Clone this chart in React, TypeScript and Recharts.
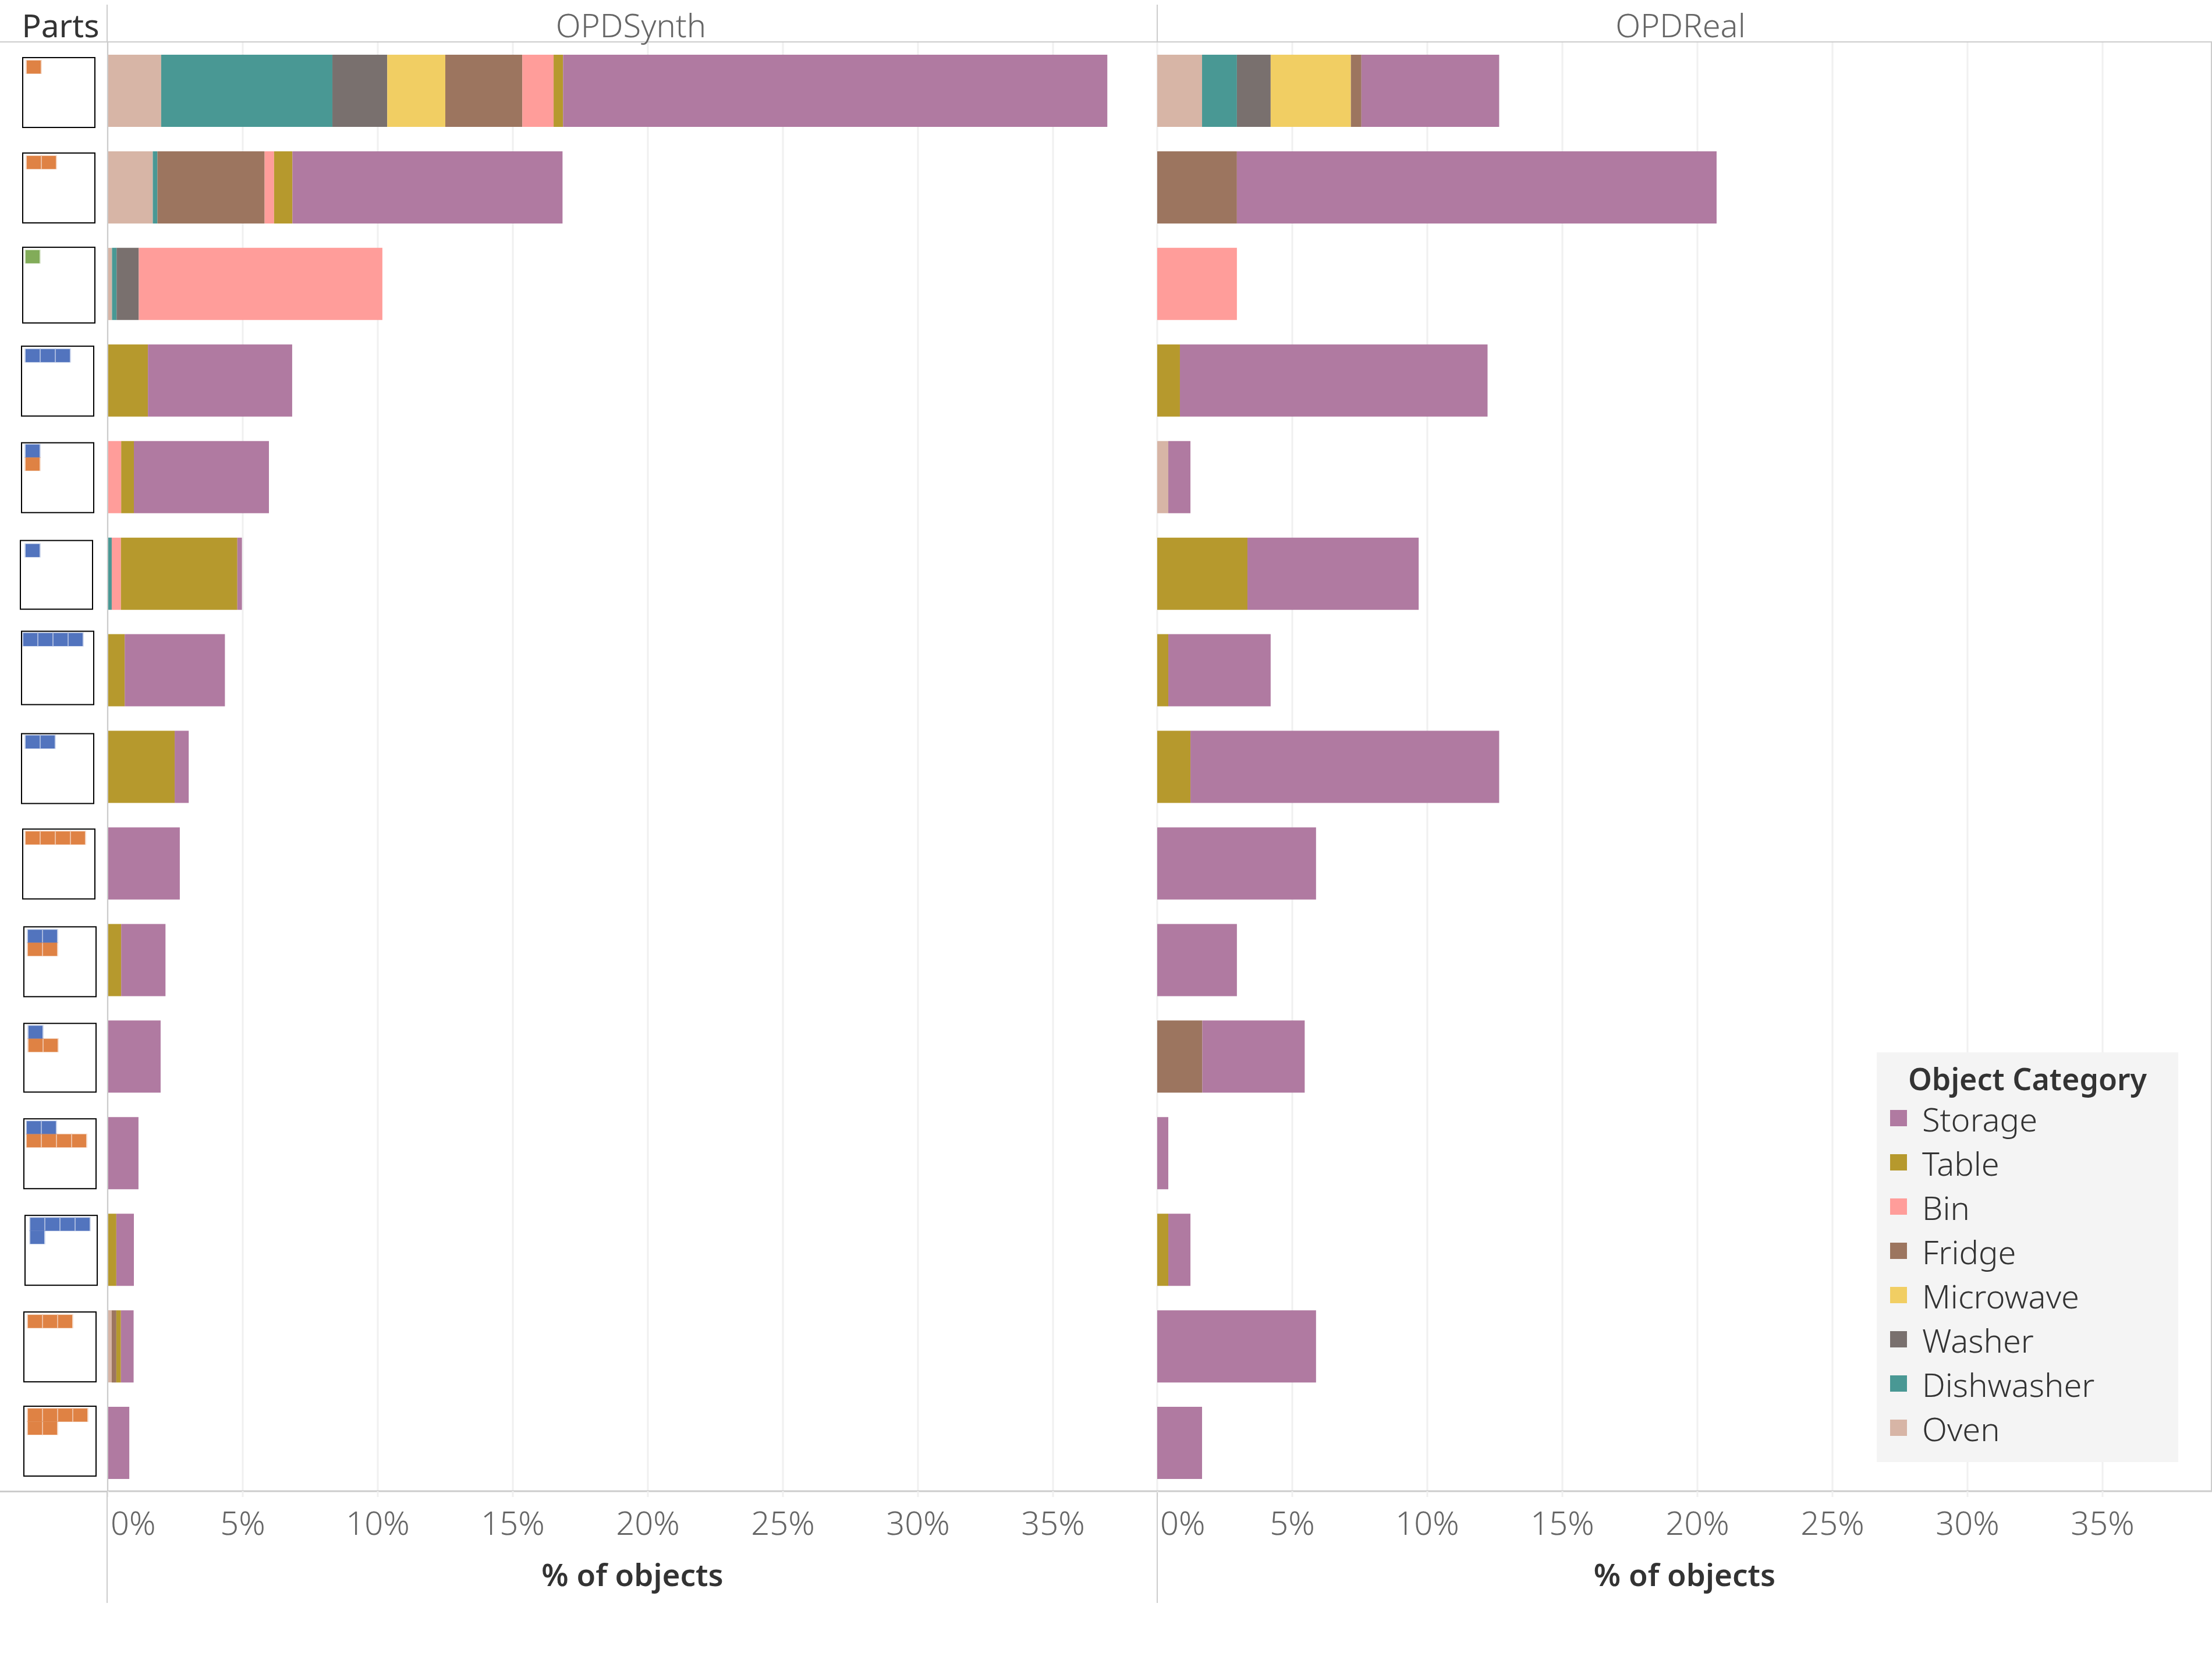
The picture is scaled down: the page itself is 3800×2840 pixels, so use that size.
import { Bar, BarChart, CartesianGrid, Legend, XAxis, YAxis } from "recharts";

// B = blue cell, O = orange cell, G = green cell, "|" starts a new line of cells
const parts = ["O", "OO", "G", "BBB", "B|O", "B", "BBBB", "BB", "OOOO", "BB|OO", "B|OO", "BB|OOOO", "BBBB|B", "OOO", "OOOO|OO"];

const synthOven = [1.98, 1.67, 0.16, 0, 0, 0, 0, 0, 0, 0, 0, 0, 0, 0.15, 0];
const synthDishwasher = [6.34, 0.17, 0.17, 0, 0, 0.15, 0, 0, 0, 0, 0, 0, 0, 0, 0];
const synthWasher = [2.03, 0, 0.82, 0, 0, 0, 0, 0, 0, 0, 0, 0, 0, 0, 0];
const synthMicrowave = [2.15, 0, 0, 0, 0, 0, 0, 0, 0, 0, 0, 0, 0, 0, 0];
const synthFridge = [2.85, 3.97, 0, 0, 0, 0, 0, 0, 0, 0, 0, 0, 0, 0.17, 0];
const synthBin = [1.16, 0.35, 9.02, 0, 0.5, 0.34, 0, 0, 0, 0, 0, 0, 0, 0, 0];
const synthTable = [0.35, 0.68, 0, 1.49, 0.47, 4.31, 0.63, 2.48, 0, 0.5, 0, 0, 0.32, 0.17, 0];
const synthStorage = [20.15, 10.0, 0, 5.34, 5.0, 0.17, 3.71, 0.52, 2.67, 1.64, 1.96, 1.14, 0.65, 0.47, 0.8];

const realOven = [1.66, 0, 0, 0, 0.41, 0, 0, 0, 0, 0, 0, 0, 0, 0, 0];
const realDishwasher = [1.29, 0, 0, 0, 0, 0, 0, 0, 0, 0, 0, 0, 0, 0, 0];
const realWasher = [1.25, 0, 0, 0, 0, 0, 0, 0, 0, 0, 0, 0, 0, 0, 0];
const realMicrowave = [2.97, 0, 0, 0, 0, 0, 0, 0, 0, 0, 0, 0, 0, 0, 0];
const realFridge = [0.39, 2.95, 0, 0, 0, 0, 0, 0, 0, 0, 1.67, 0, 0, 0, 0];
const realBin = [0, 0, 2.95, 0, 0, 0, 0, 0, 0, 0, 0, 0, 0, 0, 0];
const realTable = [0, 0, 0, 0.84, 0, 3.34, 0.41, 1.23, 0, 0, 0, 0, 0.41, 0, 0];
const realStorage = [5.1, 17.76, 0, 11.39, 0.82, 6.34, 3.79, 11.43, 5.88, 2.95, 3.79, 0.41, 0.82, 5.88, 1.66];

const xTicks = [0, 5, 10, 15, 20, 25, 30, 35];

// bar stacking order, left to right
const stackOrder = ["Oven", "Dishwasher", "Washer", "Microwave", "Fridge", "Bin", "Table", "Storage"];
const legendOrder = ["Storage", "Table", "Bin", "Fridge", "Microwave", "Washer", "Dishwasher", "Oven"];
const colors: Record<string, string> = {
  Storage: "#B07AA1",
  Table: "#B6992D",
  Bin: "#FF9D9A",
  Fridge: "#9C755F",
  Microwave: "#F1CE63",
  Washer: "#79706E",
  Dishwasher: "#499894",
  Oven: "#D7B5A6",
};
const cellColors: Record<string, string> = { B: "#5274BE", O: "#DF8244", G: "#82AC59" };

const synthRows = parts.map((p, i) => ({
  parts: p,
  Oven: synthOven[i],
  Dishwasher: synthDishwasher[i],
  Washer: synthWasher[i],
  Microwave: synthMicrowave[i],
  Fridge: synthFridge[i],
  Bin: synthBin[i],
  Table: synthTable[i],
  Storage: synthStorage[i],
}));

const realRows = parts.map((p, i) => ({
  parts: p,
  Oven: realOven[i],
  Dishwasher: realDishwasher[i],
  Washer: realWasher[i],
  Microwave: realMicrowave[i],
  Fridge: realFridge[i],
  Bin: realBin[i],
  Table: realTable[i],
  Storage: realStorage[i],
}));

// pasted thumbnails do not line up exactly in the original, so each keeps its own offset
const boxLeft = [39, 39, 39, 37, 37, 35, 37, 37, 39, 41, 41, 41, 43, 41, 41];
const boxTopOffset = [-56, -58, -62, -58, -58, -56, -66, -56, -58, -56, -56, -58, -58, -58, -62];
const boxHeight = [120, 120, 130, 120, 120, 118, 126, 120, 120, 120, 118, 120, 120, 120, 120];
const cellInsetX = [7, 7, 5, 7, 7, 9, 3, 7, 5, 7, 8, 5, 9, 7, 7];
const cellInsetY = [5, 5, 5, 5, 3, 6, 3, 3, 4, 5, 4, 4, 4, 5, 4];

const FONT = "'Noto Sans', sans-serif";
const PX_PER_PCT = 46.4;
const AXIS_X = 185;
const SPLIT_X = 1988;
const PLOT_TOP = 73;
const PLOT_BOTTOM = 278;
const LINE = "#cccccc";
const GRID = "#f0f0f0";

function PartsTick({ y, payload, index }: any) {
  const lines: string[] = String(payload.value).split("|");
  const left = boxLeft[index];
  const top = y - 1 + boxTopOffset[index];
  return (
    <g>
      <rect x={left} y={top} width={124} height={boxHeight[index]} fill="#fff" stroke="#000" strokeWidth={2} />
      {lines.map((line, r) =>
        line.split("").map((c, k) => {
          const cx = left + cellInsetX[index] + k * 26;
          const cy = top + cellInsetY[index] + r * 22.5;
          return (
            <g key={`${r}-${k}`}>
              <rect x={cx - 2} y={cy - 1} width={28} height={24} fill={cellColors[c]} opacity={0.3} />
              <rect x={cx} y={cy} width={24} height={22.5} fill={cellColors[c]} />
            </g>
          );
        }),
      )}
    </g>
  );
}

function PctTick({ x, y, payload }: any) {
  const first = payload.value === 0;
  return (
    <text
      x={first ? x + 5 : x}
      y={y + 65}
      textAnchor={first ? "start" : "middle"}
      fontFamily={FONT}
      fontSize={56}
      fontWeight={300}
      fill="#666"
    >
      {payload.value}%
    </text>
  );
}

function LegendBox() {
  return (
    <div style={{ width: 518, height: 704, background: "#f4f4f4", fontFamily: FONT, color: "#333", position: "relative" }}>
      <div style={{ position: "absolute", left: 0, width: 518, top: 7, textAlign: "center", fontSize: 52, fontWeight: 600, lineHeight: "75px" }}>
        Object Category
      </div>
      {legendOrder.map((name, i) => (
        <div key={name}>
          <div style={{ position: "absolute", left: 23, top: 99 + i * 76, width: 29, height: 28, background: colors[name] }} />
          <div style={{ position: "absolute", left: 78, top: 77 + i * 76, fontSize: 56, fontWeight: 300, lineHeight: "75px", whiteSpace: "nowrap" }}>{name}</div>
        </div>
      ))}
    </div>
  );
}

function Panel({ rows, width, yWidth, showParts, domainMax, legend }: any) {
  return (
    <BarChart
      width={width}
      height={2840}
      data={rows}
      layout="vertical"
      barCategoryGap={42}
      margin={{ top: PLOT_TOP, right: 0, bottom: 0, left: 0 }}
    >
      <CartesianGrid horizontal={false} stroke={GRID} strokeWidth={3} />
      <XAxis
        type="number"
        domain={[0, domainMax]}
        ticks={xTicks}
        interval={0}
        allowDataOverflow
        height={PLOT_BOTTOM}
        axisLine={{ stroke: LINE, strokeWidth: 3 }}
        tickLine={{ stroke: GRID, strokeWidth: 3 }}
        tickSize={10}
        tickMargin={0}
        tick={<PctTick />}
        label={{ value: "% of objects", position: "insideBottom", offset: 115, fontFamily: FONT, fontSize: 53, fontWeight: 600, fill: "#333" }}
      />
      <YAxis
        type="category"
        dataKey="parts"
        width={yWidth}
        interval={0}
        tickLine={false}
        axisLine={{ stroke: LINE, strokeWidth: 2 }}
        tick={showParts ? <PartsTick /> : false}
      />
      {stackOrder.map((name) => (
        <Bar key={name} dataKey={name} stackId="a" fill={colors[name]} barSize={124} isAnimationActive={false} />
      ))}
      {legend && (
        <Legend
          layout="vertical"
          align="center"
          verticalAlign="middle"
          wrapperStyle={{ left: 3224 - SPLIT_X, top: 1808, width: 518, height: 704 }}
          content={<LegendBox />}
        />
      )}
    </BarChart>
  );
}

function Line({ x, y, w, h, color = LINE }: any) {
  return <div style={{ position: "absolute", left: x, top: y, width: w, height: h, background: color }} />;
}

function Title({ text, center, color, weight = 400, size = 55 }: any) {
  return (
    <div
      style={{
        position: "absolute",
        left: center - 400,
        width: 800,
        top: 5,
        textAlign: "center",
        fontFamily: FONT,
        fontSize: size,
        fontWeight: weight,
        lineHeight: "75px",
        color,
      }}
    >
      {text}
    </div>
  );
}

export default function App() {
  return (
    <div style={{ position: "absolute", left: 0, top: 0, width: 3800, height: 2840, background: "#fff", overflow: "hidden" }}>
      <div style={{ position: "absolute", left: 0, top: 0 }}>
        <Panel rows={synthRows} width={SPLIT_X} yWidth={AXIS_X} showParts domainMax={(SPLIT_X - AXIS_X) / PX_PER_PCT} />
      </div>
      <div style={{ position: "absolute", left: SPLIT_X, top: 0 }}>
        <Panel rows={realRows} width={3800 - SPLIT_X} yWidth={0} domainMax={(3800 - SPLIT_X) / PX_PER_PCT} legend />
      </div>

      <Line x={0} y={71} w={3800} h={2} />
      <Line x={0} y={2561} w={AXIS_X} h={3} />
      <Line x={AXIS_X - 2} y={8} w={2} h={64} />
      <Line x={SPLIT_X - 1} y={8} w={2} h={64} />
      <Line x={AXIS_X - 2} y={2564} w={2} h={190} />
      <Line x={SPLIT_X - 1} y={2564} w={2} h={190} />
      <Line x={3798} y={72} w={2} h={2490} />

      <Title text="Parts" center={104} color="#333" />
      <Title text="OPDSynth" center={1084} color="#666" weight={300} size={56} />
      <Title text="OPDReal" center={2887} color="#666" weight={300} size={56} />
    </div>
  );
}
